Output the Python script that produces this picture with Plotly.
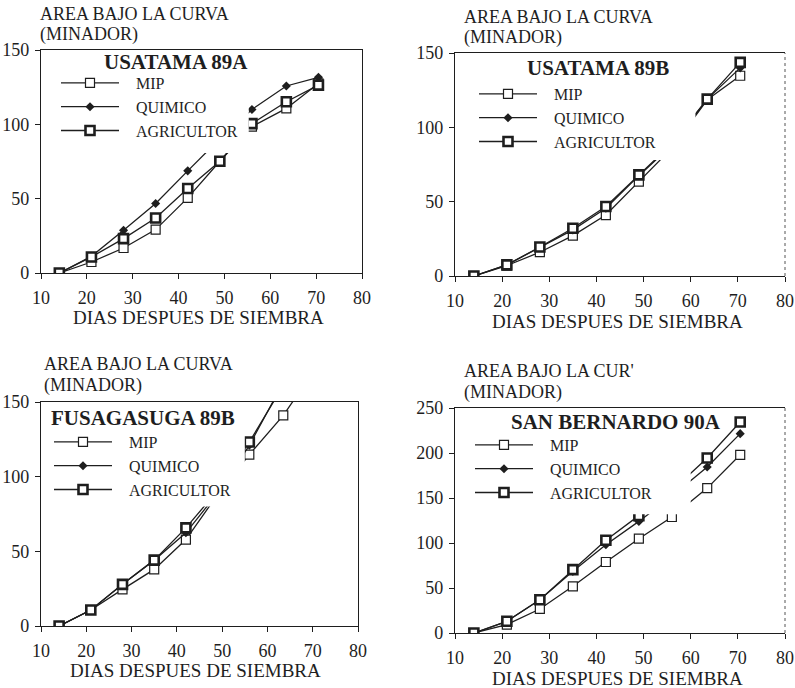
import plotly.graph_objects as go

# ---------------- data ----------------
days = [14, 21, 28, 35, 42, 49, 56, 63.5, 70.5]
series_names = ["MIP", "QUIMICO", "AGRICULTOR"]
panel_titles = ["USATAMA 89A", "USATAMA 89B", "FUSAGASUGA 89B", "SAN BERNARDO 90A"]

u89a_mip = [0, 7.4, 16.8, 29.2, 50.5, 75.2, 98.5, 110.7, 127.5]
u89a_quim = [0, 11.2, 28.7, 46.7, 68.7, 90.3, 110.0, 125.8, 131.6]
u89a_agri = [0, 10.8, 23.1, 37.0, 56.8, 75.2, 100.5, 115.2, 126.4]

u89b_mip = [0, 7.0, 16.0, 27.2, 41.0, 63.5, 86.0, 118.5, 134.7]
u89b_quim = [0, 7.5, 19.3, 31.0, 45.6, 67.5, 88.0, 119.0, 140.0]
u89b_agri = [0, 7.5, 19.5, 32.1, 46.7, 68.0, 89.0, 119.0, 143.7]

f89b_mip = [0, 10.7, 24.5, 37.9, 57.9, 88.0, 114.8, 141.0, 172.0]
f89b_quim = [0, 10.7, 27.9, 44.1, 62.4, 89.0, 121.0, 163.0, 192.0]
f89b_agri = [0, 10.7, 27.9, 44.1, 65.7, 90.7, 123.2, 161.0, 190.0]

sb90a_mip = [0, 9.3, 26.7, 51.9, 78.9, 104.8, 128.9, 161.0, 198.0]
sb90a_quim = [0, 13.0, 37.0, 68.5, 98.1, 124.0, 152.0, 184.4, 221.5]
sb90a_agri = [0, 13.0, 37.0, 70.4, 103.0, 130.4, 158.0, 194.4, 234.4]

x_ticks = [10, 20, 30, 40, 50, 60, 70, 80]
y_ticks_150 = [0, 50, 100, 150]
y_ticks_250 = [0, 50, 100, 150, 200, 250]

y_title_line1 = "AREA BAJO LA CURVA"
y_title_line1_cut = "AREA BAJO LA CUR'"
y_title_line2 = "(MINADOR)"
x_title = "DIAS DESPUES DE SIEMBRA"

panels = [
    dict(series=[u89a_mip, u89a_quim, u89a_agri], ymax=150, yticks=y_ticks_150, ytitle=y_title_line1),
    dict(series=[u89b_mip, u89b_quim, u89b_agri], ymax=150, yticks=y_ticks_150, ytitle=y_title_line1),
    dict(series=[f89b_mip, f89b_quim, f89b_agri], ymax=150, yticks=y_ticks_150, ytitle=y_title_line1),
    dict(series=[sb90a_mip, sb90a_quim, sb90a_agri], ymax=250, yticks=y_ticks_250, ytitle=y_title_line1_cut),
]

# ---------------- layout geometry (pixels) ----------------
W, H = 795, 688
FONT = "Liberation Serif, Times New Roman, serif"
INK = "#1e1e1e"
NB = "\u00a0"

# plot-area boxes: left, right, top, bottom
boxes = [(41, 362, 50, 273), (455, 785, 53, 276), (41, 358, 402, 626), (455, 785, 408, 633)]
# legend top-left corners (px) and label padding
legend_pos = [(56, 66), (474, 77), (49, 425), (470, 428)]
label_pad = [3, 3, 3, 3]
# title centres
title_pos = [(176, 62), (598, 68), (143, 418), (616, 422)]
# y title (left, line1 centre y, line2 centre y)
ytitle_pos = [(38, 14, 35), (462, 17, 38), (42, 364, 385), (462, 371, 392)]
# x title centres
xtitle_pos = [(198, 318), (617, 321), (195, 670), (617, 678)]
# masks (data coords): x0, x1, y0, y1  (white patch that interrupted the lines)
masks = [(12, 55.3, 80.7, 147.5), (12, 61, 78, 147.5), (12, 55, 80, 147.5), (12, 60, 132, 246)]
mirror_right = [True, False, True, False]

marker_styles = [
    dict(symbol="square", size=9, color="white", line=dict(color=INK, width=1.2)),
    dict(symbol="diamond", size=7, color=INK, line=dict(color=INK, width=0)),
    dict(symbol="square", size=9, color="white", line=dict(color=INK, width=2.6)),
]


def px_x(p):
    return p / W


def px_y(p):
    return 1 - p / H


fig = go.Figure()
layout = dict(
    width=W, height=H, margin=dict(l=0, r=0, t=0, b=0, pad=0, autoexpand=False),
    paper_bgcolor="white", plot_bgcolor="white",
    font=dict(family=FONT, color=INK, size=18),
    shapes=[], annotations=[],
)

for i, p in enumerate(panels):
    k = "" if i == 0 else str(i + 1)
    xa, ya = "x" + k, "y" + k
    lg = "legend" + k
    l, r, t, b = boxes[i]
    for j, name in enumerate(series_names):
        fig.add_trace(go.Scatter(
            x=days, y=p["series"][j], name=NB * label_pad[i] + name, mode="lines+markers",
            line=dict(color=INK, width=1.3), marker=marker_styles[j],
            xaxis=xa, yaxis=ya, legend=lg, cliponaxis=True,
        ))
    axis_common = dict(
        showgrid=False, zeroline=False, showline=True, linecolor=INK, linewidth=1.3,
        ticks="outside", ticklen=5, tickcolor=INK, tickwidth=1.2, automargin=False,
        tickfont=dict(family=FONT, size=18, color=INK),
    )
    layout["xaxis" + k] = dict(axis_common, domain=[px_x(l), px_x(r)], range=[10, 80], mirror=True,
                               tickvals=x_ticks, anchor=ya, ticklabelstandoff=3)
    layout["yaxis" + k] = dict(axis_common, domain=[px_y(b), px_y(t)], range=[0, p["ymax"]],
                               mirror=mirror_right[i], tickvals=p["yticks"], anchor=xa,
                               ticklabelstandoff=2)
    if not mirror_right[i]:
        layout["shapes"].append(dict(type="line", xref=xa + " domain", yref=ya + " domain",
                                     x0=1, x1=1, y0=0, y1=1, layer="above",
                                     line=dict(color="#555555", width=1, dash="dot")))
    lx, ly = legend_pos[i]
    layout[lg] = dict(
        x=px_x(lx), y=px_y(ly), xanchor="left", yanchor="top",
        bgcolor="rgba(0,0,0,0)", borderwidth=0, itemwidth=58,
        font=dict(family=FONT, size=16, color=INK), tracegroupgap=0,
    )
    m = masks[i]
    layout["shapes"].append(dict(type="rect", xref=xa, yref=ya, x0=m[0], x1=m[1], y0=m[2], y1=m[3],
                                 fillcolor="white", line=dict(width=0), layer="above"))
    tx, ty = title_pos[i]
    layout["annotations"].append(dict(text="<b>" + panel_titles[i] + "</b>", xref="paper", yref="paper",
                                      x=px_x(tx), y=px_y(ty), xanchor="center", yanchor="middle",
                                      showarrow=False, font=dict(family=FONT, size=21, color=INK)))
    yx, y1, y2 = ytitle_pos[i]
    for txt, yy in ((p["ytitle"], y1), (y_title_line2, y2)):
        layout["annotations"].append(dict(text=txt, xref="paper", yref="paper",
                                          x=px_x(yx), y=px_y(yy), xanchor="left", yanchor="middle",
                                          showarrow=False, font=dict(family=FONT, size=18, color=INK)))
    xx, xy = xtitle_pos[i]
    layout["annotations"].append(dict(text=x_title, xref="paper", yref="paper",
                                      x=px_x(xx), y=px_y(xy), xanchor="center", yanchor="middle",
                                      showarrow=False, font=dict(family=FONT, size=19, color=INK)))

fig.update_layout(**layout)
fig.write_html("out.html", config={"displayModeBar": False},
               post_script="document.body.style.margin='0';document.body.style.overflow='hidden';")
